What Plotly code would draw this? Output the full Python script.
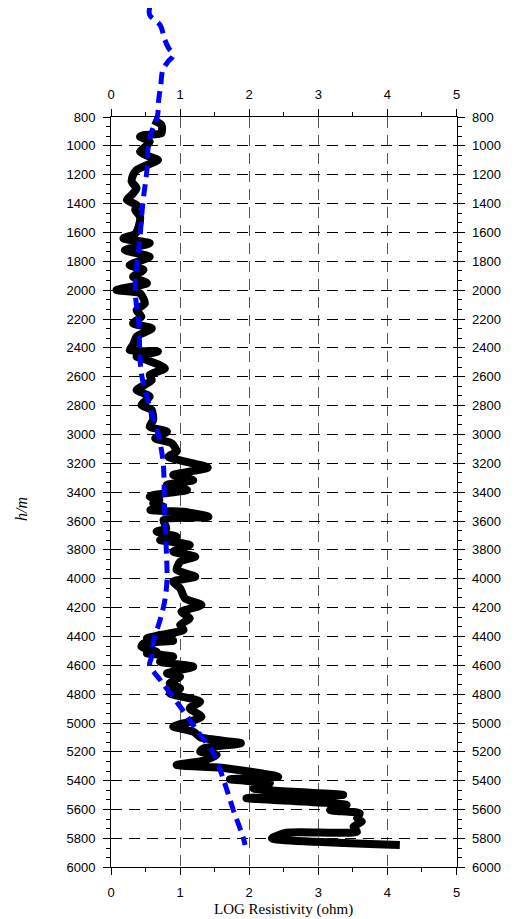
import plotly.graph_objects as go

# ---- data (depth in m, LOG resistivity) ----
black_depth = [821, 855, 913, 925, 936, 971, 1005, 1040, 1075, 1098, 1133, 1167, 1202, 1248, 1294,
               1340, 1375, 1410, 1445, 1491, 1560, 1610, 1641, 1675, 1722, 1768, 1826, 1860, 1907,
               1952, 1999, 2022, 2091, 2138, 2184, 2230, 2265, 2322, 2380, 2415, 2426, 2461, 2484,
               2542, 2588, 2623, 2669, 2692, 2738, 2796, 2831, 2900, 2946, 2981, 3027, 3062, 3119,
               3154, 3230, 3281, 3316, 3350, 3385, 3420, 3431, 3455, 3477, 3500, 3524, 3535, 3570,
               3593, 3650, 3674, 3709, 3732, 3766, 3812, 3847, 3882, 3939, 3986, 4020, 4066, 4136,
               4182, 4228, 4274, 4320, 4355, 4390, 4413, 4430, 4448, 4471, 4506, 4517, 4540, 4575,
               4610, 4656, 4679, 4725, 4760, 4794, 4852, 4898, 4956, 4991, 5025, 5060, 5100, 5140,
               5175, 5198, 5221, 5260, 5291, 5310, 5372, 5390, 5418, 5453, 5498, 5521, 5568, 5603,
               5626, 5660, 5684, 5718, 5753, 5760, 5799, 5845]
black_log = [0.61, 0.73, 0.73, 0.47, 0.42, 0.56, 0.50, 0.42, 0.56, 0.68, 0.52, 0.37, 0.32, 0.30, 0.37,
             0.30, 0.23, 0.37, 0.35, 0.42, 0.40, 0.35, 0.18, 0.56, 0.20, 0.56, 0.27, 0.47, 0.32,
             0.52, 0.08, 0.42, 0.49, 0.37, 0.44, 0.32, 0.59, 0.37, 0.32, 0.27, 0.68, 0.37, 0.52,
             0.78, 0.56, 0.59, 0.44, 0.37, 0.56, 0.44, 0.59, 0.61, 0.56, 0.81, 0.64, 0.88, 0.95,
             0.83, 1.40, 0.90, 1.19, 0.81, 1.10, 0.61, 0.56, 0.70, 0.61, 0.75, 0.57, 1.05, 1.41,
             0.76, 0.80, 0.66, 0.95, 0.71, 1.14, 0.90, 1.22, 1.00, 0.95, 1.22, 0.90, 1.00, 1.07,
             1.31, 1.02, 1.14, 1.00, 1.05, 0.71, 0.52, 0.90, 0.47, 0.44, 0.66, 0.52, 0.90, 0.71,
             1.19, 0.81, 1.00, 0.85, 1.00, 0.85, 1.29, 1.14, 1.31, 1.14, 0.90, 1.19, 1.30, 1.88,
             1.34, 1.29, 1.53, 1.35, 0.95, 1.60, 2.42, 1.72, 2.30, 2.06, 3.36, 1.96, 3.41, 3.17,
             3.60, 3.56, 3.63, 3.51, 3.56, 2.54, 2.33, 4.18]

blue_depth = [40, 93, 162, 266, 320, 370, 419, 474, 578, 682, 800, 900, 1000, 1167, 1400, 1630, 1800,
              2000, 2230, 2576, 2808, 2992, 3108, 3223, 3408, 3593, 3800, 4008, 4147, 4286, 4424,
              4540, 4597, 4701, 4886, 5048, 5210, 5395, 5603, 5788, 5845]
blue_log = [0.56, 0.56, 0.71, 0.78, 0.83, 0.90, 0.82, 0.75, 0.72, 0.69, 0.67, 0.59, 0.54, 0.52, 0.46,
            0.42, 0.38, 0.35, 0.40, 0.44, 0.56, 0.68, 0.73, 0.76, 0.77, 0.78, 0.80, 0.81, 0.78, 0.71,
            0.62, 0.59, 0.56, 0.71, 1.00, 1.24, 1.48, 1.63, 1.77, 1.91, 1.94]

x_title = "LOG Resistivity (ohm)"
y_title = "h/m"

# ---- geometry (page pixels; the page body adds an 8 px offset) ----
OFF = 8
W, H = 515 - OFF, 919 - OFF
px_left, px_right = 111 - OFF, 456.5 - OFF
py_top, py_bot = 117 - OFF, 867.3 - OFF
y_min, y_max = 800, 6000
scale = (py_bot - py_top) / (y_max - y_min)
xdom = [px_left / W, px_right / W]
ydom = [1 - py_bot / H, 1 - py_top / H]
ext_top = y_min - py_top / scale  # value at top of figure

tickfont = dict(family="Liberation Sans, Arial", size=13, color="black")

fig = go.Figure()
fig.add_trace(go.Scatter(x=black_log, y=black_depth, mode="lines",
                         line=dict(color="black", width=8, shape="spline", smoothing=0.6),
                         xaxis="x", yaxis="y", showlegend=False, hoverinfo="skip"))
fig.add_trace(go.Scatter(x=blue_log, y=blue_depth, mode="lines",
                         line=dict(color="#0000ff", width=5, dash="12px,7px", shape="spline"),
                         xaxis="x4", yaxis="y2", showlegend=False, hoverinfo="skip"))
fig.add_trace(go.Scatter(x=[None], y=[None], xaxis="x2", yaxis="y3", showlegend=False,
                         hoverinfo="skip"))

common_x = dict(range=[0, 5], dtick=1, tick0=0, ticks="outside", ticklen=7, tickcolor="black",
                showline=True, linecolor="black", linewidth=1, zeroline=False, automargin=False,
                tickfont=tickfont, minor=dict(dtick=0.5, ticks="outside", ticklen=4, tickcolor="black"))
common_y = dict(range=[y_max, y_min], dtick=200, tick0=800, ticks="outside", ticklen=7,
                tickcolor="black", showline=True, linecolor="black", linewidth=1, zeroline=False,
                tickfont=tickfont, automargin=False,
                minor=dict(dtick=200 / 3, tick0=800, ticks="outside", ticklen=4, tickcolor="black"))

fig.update_layout(
    template="none",
    width=W, height=H, margin=dict(l=0, r=0, t=0, b=0, pad=0, autoexpand=False),
    paper_bgcolor="white", plot_bgcolor="rgba(0,0,0,0)",
    xaxis=dict(domain=xdom, anchor="y", side="bottom", showgrid=True, gridcolor="#555555",
               griddash="11px,7px", gridwidth=1, ticklabelstandoff=6, **common_x),
    xaxis2=dict(overlaying="x", anchor="y", side="top", showgrid=False, ticklabelstandoff=5,
                **common_x),
    xaxis4=dict(domain=xdom, anchor="y2", range=[0, 5], visible=False, showgrid=False,
                zeroline=False, automargin=False),
    yaxis=dict(domain=ydom, anchor="x", side="left", showgrid=True, gridcolor="black",
               griddash="11px,7px", gridwidth=1, ticklabelstandoff=5, **common_y),
    yaxis3=dict(overlaying="y", anchor="x", side="right", showgrid=False, ticklabelstandoff=5,
                **common_y),
    yaxis2=dict(domain=[ydom[0], 1.0], anchor="x4", range=[y_max, ext_top], visible=False,
                showgrid=False, zeroline=False, automargin=False),
    annotations=[
        dict(text=x_title, x=(px_left + px_right) / 2 / W, y=1 - (909 - OFF) / H,
             xref="paper", yref="paper", showarrow=False,
             font=dict(family="Liberation Serif, Times New Roman", size=15, color="black"),
             xanchor="center", yanchor="middle"),
        dict(text="<i>" + y_title + "</i>", x=(21 - OFF) / W, y=1 - (509 - OFF) / H,
             xref="paper", yref="paper", showarrow=False, textangle=-90,
             font=dict(family="Liberation Serif, Times New Roman", size=16, color="black"),
             xanchor="center", yanchor="middle"),
    ],
)

fig.write_html("out.html")
